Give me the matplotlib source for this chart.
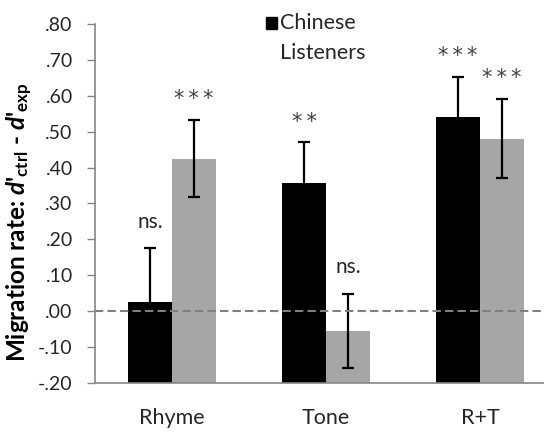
import numpy as np
import matplotlib
matplotlib.use("Agg")
import matplotlib.pyplot as plt
from matplotlib.patches import Rectangle
from matplotlib.ticker import FuncFormatter, MultipleLocator

plt.rcParams['font.family'] = ['Lato', 'DejaVu Sans']
plt.rcParams['mathtext.fontset'] = 'custom'
plt.rcParams['mathtext.it'] = 'Lato:italic:bold'
plt.rcParams['mathtext.rm'] = 'Lato:bold'

# data
categories = ["Rhyme", "Tone", "R+T"]
chinese = [0.026, 0.358, 0.542]
chinese_err = [0.149, 0.112, 0.111]
other = [0.425, -0.055, 0.481]
other_err = [0.108, 0.104, 0.111]
chinese_sig = ["ns.", "**", "***"]
other_sig = ["***", "ns.", "***"]

TXT = "#262626"
AXC = "#868686"
FS = 14

fig = plt.figure(figsize=(5.44, 4.32), dpi=100)
ax = fig.add_axes([95 / 544, 1 - 383 / 432, 449 / 544, 359 / 432])

x = np.arange(len(categories))
w = 0.286
base = -0.2

ax.bar(x - w / 2, np.array(chinese) - base, w, bottom=base, color="black", zorder=2)
ax.bar(x + w / 2, np.array(other) - base, w, bottom=base, color="#a6a6a6", zorder=2)
ax.errorbar(x - w / 2, chinese, yerr=chinese_err, fmt="none", ecolor="black",
            elinewidth=1.6, capsize=4, capthick=1.6, zorder=3)
ax.errorbar(x + w / 2, other, yerr=other_err, fmt="none", ecolor="black",
            elinewidth=1.6, capsize=4, capthick=1.6, zorder=3)

ax.axhline(0, color="#7f7f7f", lw=1.5, dashes=(4, 2), zorder=4)


def mark(xi, top, s):
    if s.startswith("*"):
        # wider spacing between stars, as in the original
        ax.text(xi, top + 0.03, "\u2009".join(s), ha="center", va="bottom",
                fontsize=15, family="DejaVu Sans", color="#404040")
    else:
        ax.text(xi, top + 0.045, s, ha="center", va="bottom", fontsize=15, color=TXT)


# significance marks
for xi, v, e, s in zip(x - w / 2, chinese, chinese_err, chinese_sig):
    mark(xi, v + e, s)
for xi, v, e, s in zip(x + w / 2, other, other_err, other_sig):
    mark(xi, v + e, s)

ax.set_xlim(-0.5, 2.416)
ax.set_ylim(-0.2, 0.8)
ax.yaxis.set_major_locator(MultipleLocator(0.1))
ax.yaxis.set_major_formatter(FuncFormatter(lambda v, p: f"{v:.2f}".replace("0.", ".")))
ax.set_xticks(x)
ax.set_xticklabels(categories)

for side in ["top", "right"]:
    ax.spines[side].set_visible(False)
for side in ["left", "bottom"]:
    ax.spines[side].set_color(AXC)
    ax.spines[side].set_linewidth(1.2)
ax.tick_params(axis="y", direction="out", length=6, width=1, color=AXC,
               pad=10, labelsize=FS, labelcolor=TXT)
ax.tick_params(axis="x", length=0, pad=18, labelsize=15.5, labelcolor=TXT)

# legend
fig.patches.append(Rectangle((266 / 544, 1 - 29 / 432), 11 / 544, 12 / 432,
                             transform=fig.transFigure, color="black"))
fig.text(280 / 544, 1 - 23 / 432, "Chinese", fontsize=15.5, color=TXT, va="center")
fig.text(280 / 544, 1 - 53 / 432, "Listeners", fontsize=15.5, color=TXT, va="center")

fig.text(20 / 544, 1 - 222 / 432,
         r"Migration rate: $\mathit{d}$'$_{\mathrm{ctrl}}$ - $\mathit{d}$'$_{\mathrm{exp}}$",
         rotation=90, ha="center", va="center", fontsize=17.5, fontweight="bold",
         color="black")

fig.savefig("out.png", dpi=100)
